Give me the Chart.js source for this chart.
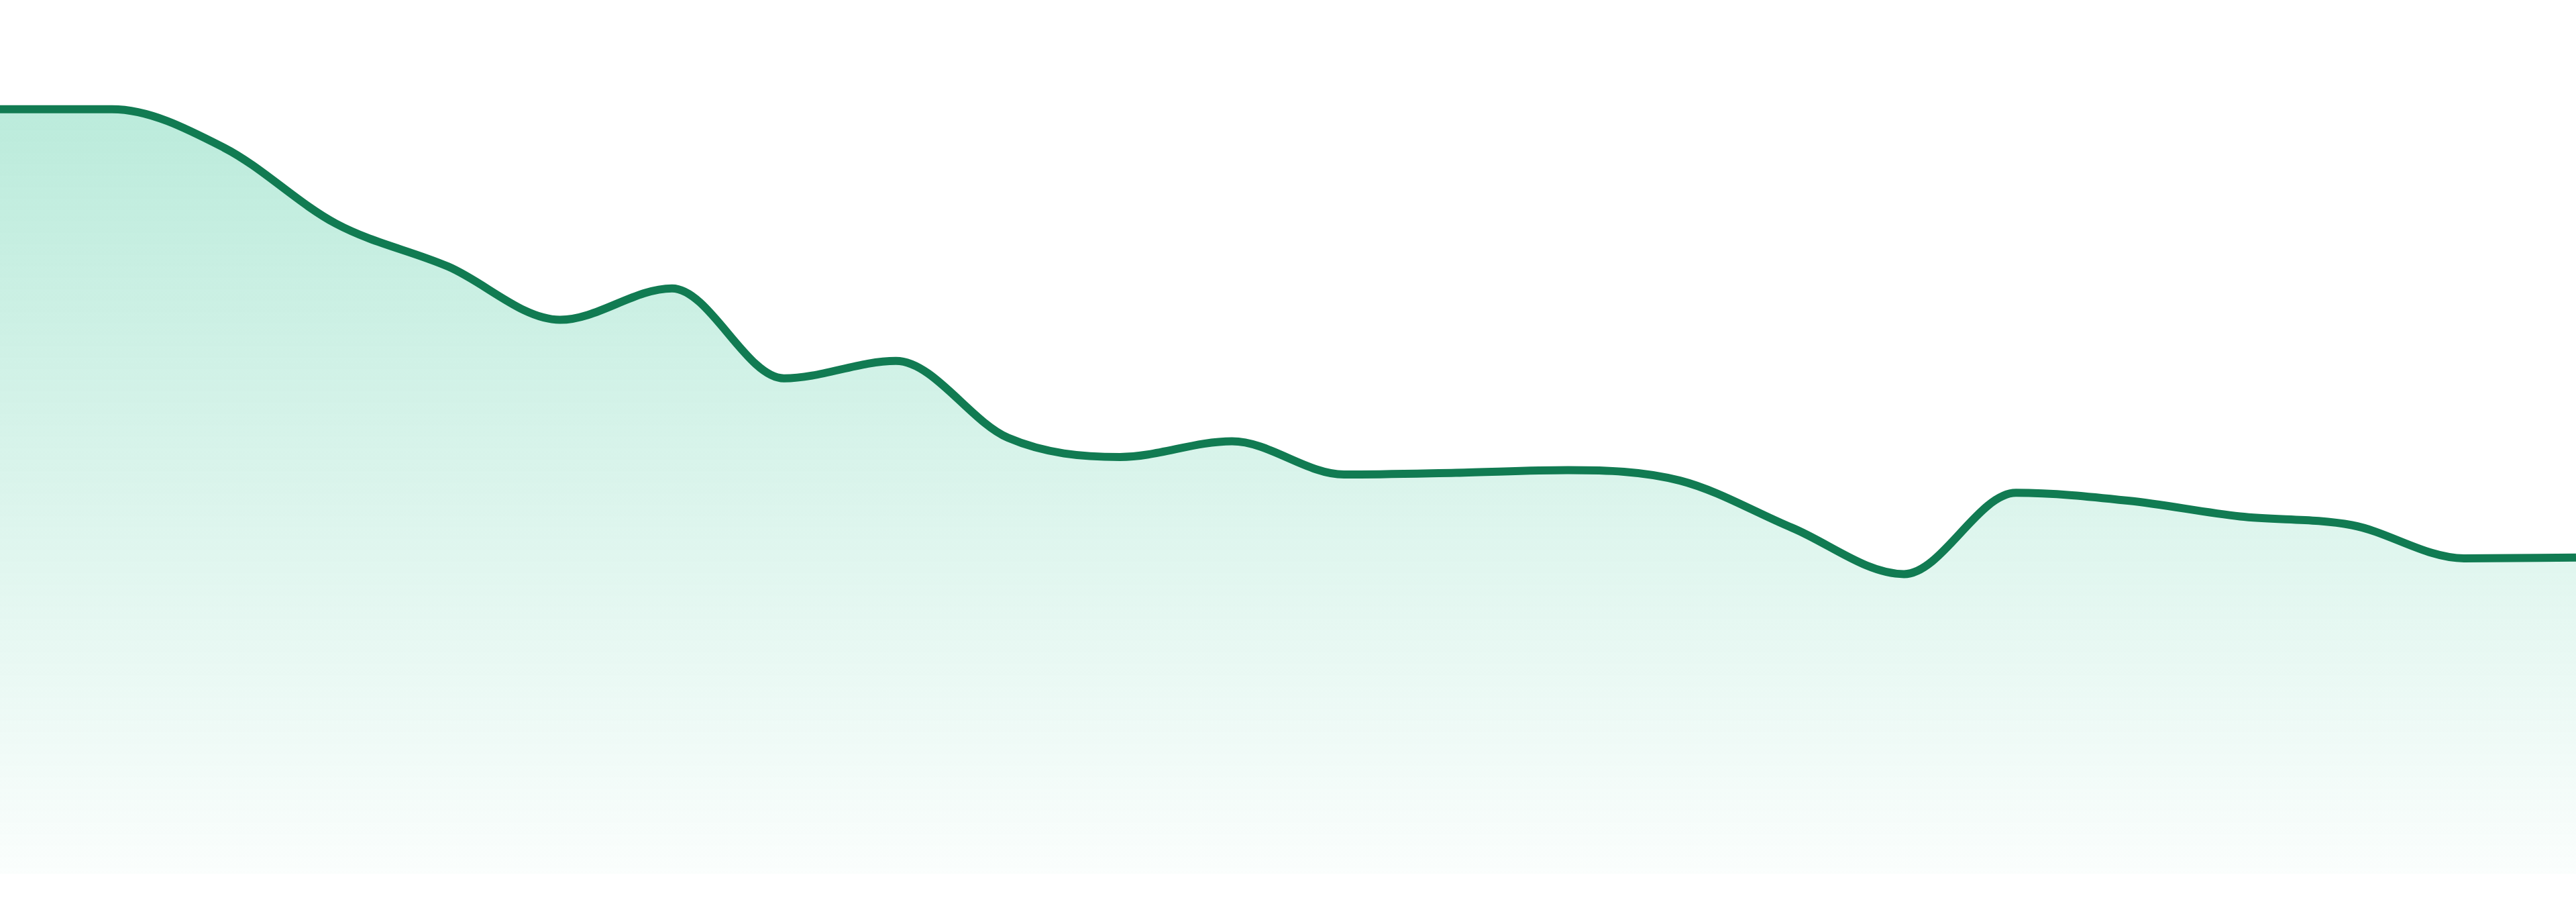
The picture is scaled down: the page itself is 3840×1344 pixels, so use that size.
<!DOCTYPE html>
<html>
<head>
<meta charset="utf-8">
<script src="https://cdn.jsdelivr.net/npm/chart.js@4"></script>
<style>
    html, body { margin: 0; padding: 0; background: #fff; }
    #wrap { width: 3840px; height: 1344px; position: relative; }
</style>
</head>
<body>
<div id="wrap"><canvas id="trendChart"></canvas></div>
<script>
// 24 points, no labels shown on the chart
const labels = ['1', '2', '3', '4', '5', '6', '7', '8', '9', '10', '11', '12',
    '13', '14', '15', '16', '17', '18', '19', '20', '21', '22', '23', '24'];
const values = [87.5, 87.5, 83.1, 74.4, 69.5, 63.4, 67.0, 56.7, 58.7, 49.9, 47.7, 49.5,
    45.7, 45.9, 46.2, 45.0, 39.6, 34.3, 43.6, 42.7, 40.9, 39.9, 36.1, 36.2];
const yMin = 0;
const yMax = 100;

const ctx = document.getElementById('trendChart').getContext('2d');

// vertical fade under the line
function areaGradient(context) {
    const { ctx, chartArea } = context.chart;
    if (!chartArea) return 'rgba(16,185,129,0.2)';
    const g = ctx.createLinearGradient(0, chartArea.top, 0, chartArea.bottom);
    g.addColorStop(0, 'rgba(16,185,129,0.32)');
    g.addColorStop(1, 'rgba(16,185,129,0.02)');
    return g;
}

new Chart(ctx, {
    type: 'line',
    data: {
        labels,
        datasets: [{
            data: values,
            borderColor: '#117b52',
            backgroundColor: areaGradient,
            borderWidth: 12,
            pointRadius: 0,
            cubicInterpolationMode: 'monotone',
            fill: 'start'
        }]
    },
    options: {
        responsive: true,
        maintainAspectRatio: false,
        animation: false,
        layout: { padding: { top: 0, bottom: 42, left: 0, right: 0 } },
        plugins: {
            legend: { display: false },
            tooltip: { enabled: false }
        },
        scales: {
            x: { display: false },
            y: { display: false, min: yMin, max: yMax }
        }
    }
});
</script>
</body>
</html>
